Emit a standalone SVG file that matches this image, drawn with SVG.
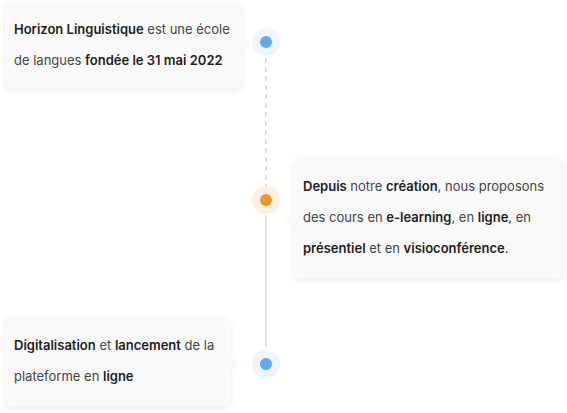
<svg xmlns="http://www.w3.org/2000/svg" width="567" height="413" viewBox="0 0 567 413">
<defs>
<filter id="sh" x="-10%" y="-20%" width="120%" height="150%">
<feDropShadow dx="0" dy="2" stdDeviation="3" flood-color="#000" flood-opacity="0.08"/>
</filter>
<style>
.card{fill:#f9f9f9;}
.t{font-family:Inter,"DejaVu Sans",sans-serif;font-size:13px;fill:#444;}
.b{font-weight:600;fill:#1e1e1e;}
.halo-b{fill:#eef5ff;}
.dot-b{fill:#5aabff;}
.halo-o{fill:#fcf0e4;}
.dot-o{fill:#f8931f;}
</style>
</defs>
<rect width="567" height="413" fill="#fff"/>
<g id="connectors">
<line x1="266" y1="58" x2="266" y2="186" stroke="#dedede" stroke-width="2" stroke-dasharray="5 4"/>
<line x1="266" y1="215" x2="266" y2="346" stroke="#e2e2e2" stroke-width="2"/>
</g>
<g id="card1">
<g filter="url(#sh)">
<rect class="card" x="5" y="2" width="237" height="86" rx="6"/>
<path class="card" d="M241 36 L248 42 L241 48 Z"/>
</g>
<text class="t" x="14" y="33.5"><tspan class="b">Horizon Linguistique</tspan> est une école</text>
<text class="t" x="14" y="64.5">de langues <tspan class="b">fondée le 31 mai 2022</tspan></text>
</g>
<g id="dot1">
<circle class="halo-b" cx="266" cy="42" r="14"/>
<circle class="dot-b" cx="266" cy="42" r="6"/>
</g>
<g id="card2">
<g filter="url(#sh)">
<rect class="card" x="294" y="158" width="269" height="120" rx="6"/>
<path class="card" d="M295 212 L288 218 L295 224 Z"/>
</g>
<text class="t" x="303" y="191"><tspan class="b">Depuis</tspan> notre <tspan class="b">création</tspan>, nous proposons</text>
<text class="t" x="303" y="222">des cours en <tspan class="b">e-learning</tspan>, en <tspan class="b">ligne</tspan>, en</text>
<text class="t" x="303" y="253"><tspan class="b">présentiel</tspan> et en <tspan class="b">visioconférence</tspan>.</text>
</g>
<g id="dot2">
<circle class="halo-o" cx="266" cy="200" r="14"/>
<circle class="dot-o" cx="266" cy="200" r="6"/>
</g>
<g id="card3">
<g filter="url(#sh)">
<rect class="card" x="5" y="317" width="225" height="89" rx="6"/>
<path class="card" d="M229 355 L236 361 L229 367 Z"/>
</g>
<text class="t" x="14" y="350"><tspan class="b">Digitalisation</tspan> et <tspan class="b">lancement</tspan> de la</text>
<text class="t" x="14" y="381">plateforme en <tspan class="b">ligne</tspan></text>
</g>
<g id="dot3">
<circle class="halo-b" cx="266" cy="364" r="14"/>
<circle class="dot-b" cx="266" cy="364" r="6"/>
</g>
</svg>
